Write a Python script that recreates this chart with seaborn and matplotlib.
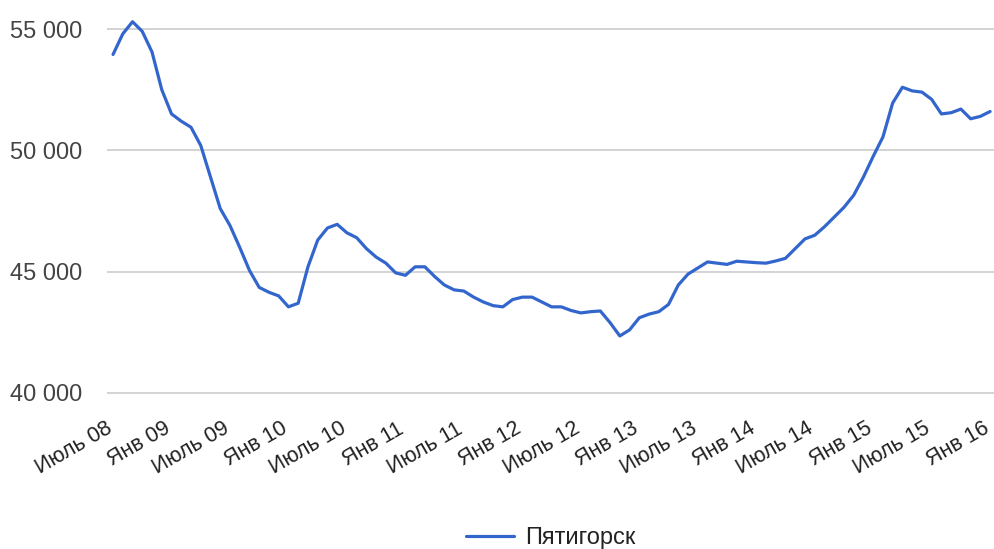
import seaborn as sns
import matplotlib.pyplot as plt
import matplotlib.transforms as mtransforms
import pandas as pd

# monthly values, Jul 2008 .. Jan 2016
prices = [53950, 54800, 55300, 54900, 54050, 52500, 51500, 51200, 50950, 50200,
          48900, 47600, 46900, 46000, 45050, 44350, 44150, 44000, 43550, 43700,
          45200, 46300, 46800, 46950, 46600, 46400, 45950, 45600, 45350, 44950,
          44850, 45200, 45200, 44800, 44450, 44250, 44200, 43950, 43750, 43600,
          43550, 43850, 43950, 43950, 43750, 43550, 43550, 43400, 43300, 43350,
          43380, 42900, 42350, 42600, 43100, 43250, 43350, 43650, 44450, 44900,
          45150, 45400, 45350, 45300, 45430, 45400, 45370, 45350, 45440, 45550,
          45950, 46350, 46500, 46850, 47250, 47650, 48150, 48900, 49750, 50550,
          51950, 52600, 52450, 52400, 52100, 51500, 51550, 51700, 51300, 51400,
          51600]
x_labels = ["Июль 08", "Янв 09", "Июль 09", "Янв 10", "Июль 10", "Янв 11",
            "Июль 11", "Янв 12", "Июль 12", "Янв 13", "Июль 13", "Янв 14",
            "Июль 14", "Янв 15", "Июль 15", "Янв 16"]
y_ticks = [40000, 45000, 50000, 55000]
y_labels = ["40 000", "45 000", "50 000", "55 000"]
city = "Пятигорск"

df = pd.DataFrame({"month": range(len(prices)), "price": prices, "city": city})

sns.set_theme(style="white")
plt.rcParams['font.family'] = ['Liberation Sans', 'DejaVu Sans']

fig = plt.figure(figsize=(9.95, 5.49), dpi=100)
W, H = 995, 549
ax = fig.add_axes([107 / W, 1 - 396 / H, (995 - 107) / W, (396 - 10) / H])

sns.lineplot(data=df, x="month", y="price", hue="city", palette=["#3366cc"],
             linewidth=2.3, ax=ax)

ax.set_xlim(-0.62, 90.5)
ax.set_ylim(39876, 55783)
ax.set_yticks(y_ticks)
ax.set_yticklabels(y_labels, fontsize=17, color="#444444")
ax.set_xticks(range(0, len(prices), 6))
ax.set_xticklabels(x_labels, fontsize=15.5, color="#222222", rotation=30,
                   ha="right", va="top", rotation_mode="anchor")
ax.tick_params(axis="y", length=0, pad=18)
ax.tick_params(axis="x", length=0, pad=16)
# nudge rotated labels left so their right end sits on the tick
shift = mtransforms.ScaledTranslation(-8 / 100, 0, fig.dpi_scale_trans)
for lab in ax.get_xticklabels():
    lab.set_transform(lab.get_transform() + shift)
ax.grid(axis="y", color="#cccccc", linewidth=1.2)
ax.set_axisbelow(True)
for s in ax.spines.values():
    s.set_visible(False)
ax.set_xlabel("")
ax.set_ylabel("")

ax.legend(loc="center", bbox_to_anchor=(551 / W, 1 - 538 / H),
          bbox_transform=fig.transFigure, frameon=False, fontsize=17,
          handlelength=2.0, handletextpad=0.5, labelcolor="#222222")

fig.savefig("out.png", dpi=100)
